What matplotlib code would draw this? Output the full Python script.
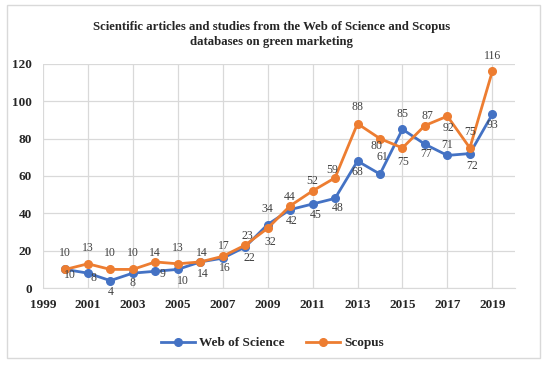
import matplotlib
matplotlib.use("Agg")
import matplotlib.pyplot as plt
from matplotlib.patches import Rectangle

years = list(range(2000, 2020))
wos = [10, 8, 4, 8, 9, 10, 14, 16, 22, 34, 42, 45, 48, 68, 61, 85, 77, 71, 72, 93]
scopus = [10, 13, 10, 10, 14, 13, 14, 17, 23, 32, 44, 52, 59, 88, 80, 75, 87, 92, 75, 116]

# label offsets in pixels (dx, dy)
wos_off = [(5, -6), (6, -5), (0, -11), (0, -10), (7, -3), (5, -12), (3, -12), (2, -10),
           (4, -11), (0, 16), (2, -11), (3, -11), (3, -10), (0, -11), (2, 17), (0, 15),
           (1, -10), (0, 10), (2, -12), (0, -11)]
sco_off = [(0, 16), (0, 16), (0, 16), (0, 16), (0, 9), (0, 16), (2, 9), (1, 10),
           (2, 9), (3, -14), (0, 9), (0, 10), (-3, 8), (0, 17), (-3, -7), (1, -14),
           (3, 10), (1, -12), (0, 16), (0, 15)]

blue = "#4472C4"
orange = "#ED7D31"
serif = "Liberation Serif"

fig = plt.figure(figsize=(5.5, 3.67), dpi=100)
ax = fig.add_axes([0.078, 0.215, 0.858, 0.611])

ax.plot(years, wos, color=blue, lw=2, marker="o", ms=5.5, label="Web of Science", zorder=3)
ax.plot(years, scopus, color=orange, lw=2, marker="o", ms=5.5, label="Scopus", zorder=3)

px = 72 / 100
for x, y, o in zip(years, wos, wos_off):
    ax.annotate(str(y), (x, y), xytext=(o[0] * px, o[1] * px), textcoords="offset points",
                ha="center", va="center", fontsize=8.5, family=serif, color="#404040")
for x, y, o in zip(years, scopus, sco_off):
    ax.annotate(str(y), (x, y), xytext=(o[0] * px, o[1] * px), textcoords="offset points",
                ha="center", va="center", fontsize=8.5, family=serif, color="#404040")

ax.set_xlim(1999, 2020)
ax.set_ylim(0, 120)
ax.set_xticks(range(1999, 2020, 2))
ax.set_yticks(range(0, 121, 20))
ax.grid(True, color="#D9D9D9", lw=0.9)
ax.set_axisbelow(True)
for s in ["top", "right", "left"]:
    ax.spines[s].set_visible(False)
ax.spines["bottom"].set_color("#D9D9D9")
ax.tick_params(length=0, pad=8)
for t in ax.get_xticklabels() + ax.get_yticklabels():
    t.set_family(serif)
    t.set_fontweight("bold")
    t.set_fontsize(9.5)
    t.set_color("#262626")

fig.text(0.493, 0.905, "Scientific articles and studies from the Web of Science and Scopus\ndatabases on green marketing",
         ha="center", va="center", family=serif, fontweight="bold", fontsize=9.2,
         color="#262626", linespacing=1.35)

leg = fig.legend(loc="center", bbox_to_anchor=(0.495, 0.065), ncol=2, frameon=False,
                 prop={"family": serif, "weight": "bold", "size": 9.5}, handlelength=2.6,
                 columnspacing=1.6, handletextpad=0.3)
for t in leg.get_texts():
    t.set_color("#262626")

fig.patches.append(Rectangle((7 / 550, 1 - 358 / 367), 533 / 550, 353 / 367,
                             transform=fig.transFigure, fill=False, ec="#D9D9D9", lw=1))

fig.savefig("out.png", dpi=100)
